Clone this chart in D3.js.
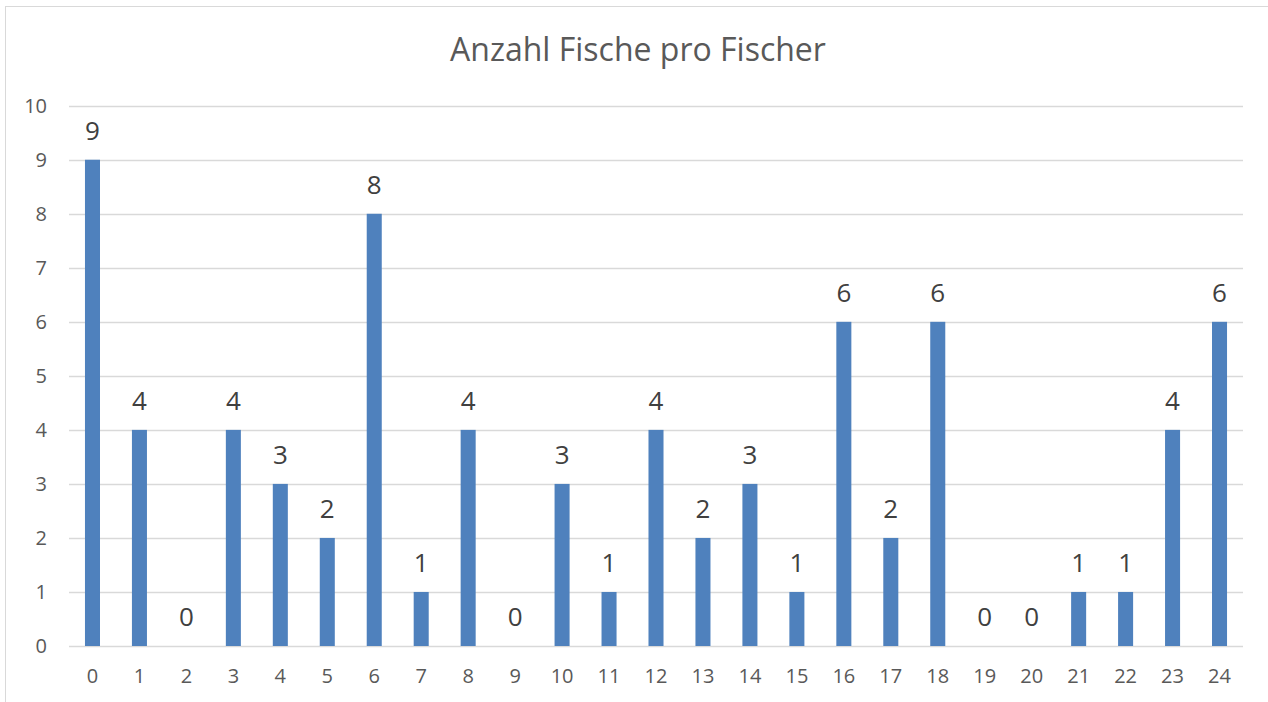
<!DOCTYPE html>
<html>
<head>
<meta charset="utf-8">
<script src="https://d3js.org/d3.v7.min.js"></script>
<title>Anzahl Fische pro Fischer</title>
<style>
body { margin: 0; background: #fff; }
svg { display: block; }
text { font-family: "Open Sans", "Noto Sans", sans-serif; }
</style>
</head>
<body>
<svg id="svg" width="1268" height="702"></svg>
<script>

// categories (Fischer) and values (Anzahl Fische)
let fischer = ["0","1","2","3","4","5","6","7","8","9","10","11","12","13","14","15","16","17","18","19","20","21","22","23","24"];
let fische = [9,4,0,4,3,2,8,1,4,0,3,1,4,2,3,1,6,2,6,0,0,1,1,4,6];
let yTicks = [0,1,2,3,4,5,6,7,8,9,10];
let title = "Anzahl Fische pro Fischer";

let svg = d3.select("svg");

// chart area border (goes off the right and bottom edge like the screenshot)
svg.append("rect")
  .attr("x", 5.5).attr("y", 6.5)
  .attr("width", 1300).attr("height", 720)
  .attr("fill", "none")
  .attr("stroke", "#d9d9d9");

let plotLeft = 69, plotRight = 1243, plotTop = 105.7, plotBottom = 646;

let x = d3.scaleBand().domain(fischer).range([plotLeft, plotRight]).paddingInner(0.68).paddingOuter(0.34);
let y = d3.scaleLinear().domain([0, 10]).range([plotBottom, plotTop]);

// gridlines
svg.append("g").selectAll("line")
  .data(yTicks)
  .enter().append("line")
  .attr("x1", plotLeft).attr("x2", plotRight)
  .attr("y1", d => Math.round(y(d)) + 0.5)
  .attr("y2", d => Math.round(y(d)) + 0.5)
  .attr("stroke", "#d9d9d9")
  .attr("stroke-width", 1.3);

// y axis labels
let yAxis = svg.append("g")
  .attr("transform", "translate(" + (plotLeft - 22) + ",0)")
  .call(d3.axisLeft(y).tickValues(yTicks).tickSize(0).tickPadding(0));
yAxis.select(".domain").remove();
yAxis.selectAll("text")
  .attr("fill", "#595959")
  .style("font-size", "20px");

// x axis labels
let xAxis = svg.append("g")
  .attr("transform", "translate(0," + (plotBottom + 23) + ")")
  .call(d3.axisBottom(x).tickSize(0).tickPadding(0));
xAxis.select(".domain").remove();
xAxis.selectAll("text")
  .attr("fill", "#595959")
  .style("font-size", "20px");

// bars
svg.append("g").selectAll("rect")
  .data(fische)
  .enter().append("rect")
  .attr("x", (d, i) => x(fischer[i]))
  .attr("y", d => y(d))
  .attr("width", x.bandwidth())
  .attr("height", d => plotBottom - y(d))
  .attr("fill", "#4f81bd");

// data labels
svg.append("g").selectAll("text")
  .data(fische)
  .enter().append("text")
  .attr("x", (d, i) => x(fischer[i]) + x.bandwidth() / 2)
  .attr("y", d => y(d) - 29)
  .attr("dy", "0.35em")
  .attr("text-anchor", "middle")
  .attr("fill", "#404040")
  .style("font-size", "26px")
  .text(d => d);

// title
svg.append("text")
  .attr("x", 638).attr("y", 50)
  .attr("dy", "0.35em")
  .attr("text-anchor", "middle")
  .attr("fill", "#595959")
  .style("font-size", "32px")
  .text(title);

</script>
</body>
</html>
